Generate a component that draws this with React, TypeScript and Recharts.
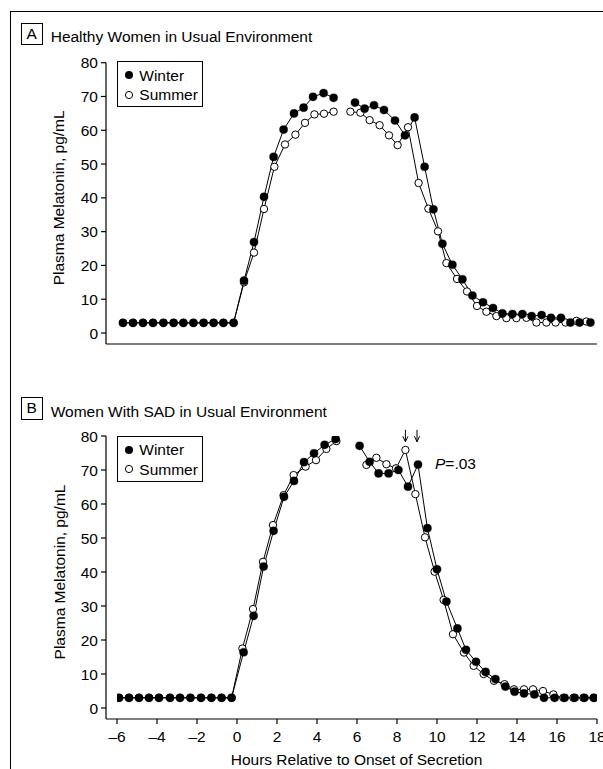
import React from 'react';
import { LineChart, Line, XAxis, YAxis, Legend, ReferenceDot } from 'recharts';

const FONT = "'Liberation Sans', Arial, sans-serif";
const FS = 15.5;

// ---------- axes / labels ----------
const xTicks = [-6, -4, -2, 0, 2, 4, 6, 8, 10, 12, 14, 16, 18];
const yTicks = [0, 10, 20, 30, 40, 50, 60, 70, 80];
const seriesNames = ['Winter', 'Summer'];
const panelLetters = ['A', 'B'];
const panelTitles = ['Healthy Women in Usual Environment', 'Women With SAD in Usual Environment'];
const yLabel = 'Plasma Melatonin, pg/mL';
const xLabel = 'Hours Relative to Onset of Secretion';

// ---------- Panel A: healthy women ----------
const hoursWinterA = [-5.7, -5.2, -4.7, -4.2, -3.68, -3.17, -2.68, -2.18, -1.67, -1.17, -0.68, -0.17,
  0.35, 0.85, 1.35, 1.83, 2.33, 2.85, 3.33, 3.8, 4.33, 4.83, 5.4, 5.9, 6.38, 6.85, 7.35, 7.9, 8.4, 8.88,
  9.38, 9.82, 10.27, 10.77, 11.27, 11.77, 12.3, 12.8, 13.27, 13.77, 14.27, 14.73, 15.23, 15.7, 16.2,
  16.67, 17.13, 17.67];
const winterA = [3, 3, 3, 3, 3, 3, 3, 3, 3, 3, 3, 3,
  15.5, 26.9, 40.3, 52.1, 60.2, 65, 66.7, 69.9, 71, 69.6, null, 68.2, 66.4, 67.4, 66, 62.9, 58.5, 63.8,
  49.2, 36.6, 26.4, 20.2, 15.9, 11.1, 9.1, 7.4, 5.8, 5.6, 5.6, 5.0, 5.3, 4.5, 4.5,
  3.1, 3.1, 3.1];

const hoursSummerA = [-5.7, -5.2, -4.7, -4.2, -3.68, -3.17, -2.68, -2.18, -1.67, -1.17, -0.68, -0.17,
  0.35, 0.85, 1.35, 1.87, 2.4, 2.92, 3.4, 3.87, 4.35, 4.83, 5.25, 5.67, 6.17, 6.63, 7.13, 7.6, 8.03, 8.55,
  9.08, 9.57, 10.05, 10.47, 11.0, 11.5, 12.0, 12.47, 12.97, 13.47, 13.97, 14.47, 14.97, 15.47, 15.93,
  16.43, 16.97, 17.47];
const summerA = [3, 3, 3, 3, 3, 3, 3, 3, 3, 3, 3, 3,
  15, 23.8, 36.7, 49.2, 55.8, 58.7, 62.2, 64.7, 64.9, 65.5, null, 65.5, 65.2, 63, 61.5, 58.5, 55.6, 60.9,
  44.4, 36.8, 30.1, 20.7, 16, 12.3, 8.0, 6.3, 5.0, 4.4, 4.4, 4.5, 3.1, 3.1, 3.1,
  3.1, 3.6, 3.4];

// ---------- Panel B: women with SAD ----------
const hoursWinterB = [-5.9, -5.4, -4.9, -4.4, -3.9, -3.35, -2.85, -2.33, -1.8, -1.28, -0.77, -0.27,
  0.33, 0.83, 1.33, 1.83, 2.35, 2.85, 3.35, 3.85, 4.38, 4.93, 5.5, 6.13, 6.63, 7.08, 7.58, 8.07, 8.55,
  9.05, 9.52, 10.0, 10.47, 11.02, 11.45, 11.95, 12.43, 12.92, 13.42, 13.88, 14.35, 14.87, 15.35, 15.88,
  16.38, 16.88, 17.37, 17.85];
const winterB = [3, 3, 3, 3, 3, 3, 3, 3, 3, 3, 3, 3,
  16.4, 27.1, 41.6, 52.1, 62.1, 66.8, 72.3, 74.9, 77.4, 79.1, null, 77.1, 72.4, 69, 69, 70, 65.1,
  71.6, 52.9, 40.8, 31.3, 23.4, 17.1, 13.6, 10.6, 8.5, 6.3, 4.8, 4.3, 4.0, 3.0, 3.0,
  3.0, 3.0, 3.0, 3.0];

const hoursSummerB = [-5.9, -5.4, -4.9, -4.4, -3.9, -3.35, -2.85, -2.33, -1.8, -1.28, -0.77, -0.27,
  0.27, 0.8, 1.3, 1.8, 2.33, 2.83, 3.43, 3.95, 4.47, 4.97, 5.7, 6.47, 6.97, 7.47, 7.95, 8.42, 8.92,
  9.4, 9.88, 10.33, 10.8, 11.35, 11.83, 12.33, 12.85, 13.38, 13.85, 14.35, 14.8, 15.3, 15.82, 16.32,
  16.82, 17.32, 17.82];
const summerB = [3, 3, 3, 3, 3, 3, 3, 3, 3, 3, 3, 3,
  17.5, 29.1, 43, 53.8, 62.6, 68.5, 71, 72.9, 76.2, 78.5, null, 71.5, 73.6, 71.7, 70.5, 75.9, 62.9,
  50.2, 40.1, 31.8, 21.7, 16.3, 12.4, 10.0, 8.0, 7.0, 5.5, 5.5, 5.5, 5.0, 4.0, 3.0,
  3.0, 3.0, 3.0];

// annotation in panel B
const arrowHours = [8.42, 9.0];
const arrowLevel = 78.3;
const pValueAt = { x: 9.9, y: 71.8 };
const pValueText = '.03';

const toRows = (xs: number[], ys: (number | null)[]) => xs.map((x, i) => ({ x, y: ys[i] }));

const panels = [
  { winter: toRows(hoursWinterA, winterA), summer: toRows(hoursSummerA, summerA) },
  { winter: toRows(hoursWinterB, winterB), summer: toRows(hoursSummerB, summerB) },
];

const textStyle = { fontFamily: FONT, fontSize: FS, fill: '#000' };

const LegendBox = () => (
  <div
    style={{
      border: '1px solid #000',
      boxSizing: 'border-box',
      width: 86,
      height: 46,
      padding: '3px 0 0 6px',
      fontFamily: FONT,
      fontSize: FS,
      lineHeight: '19px',
      background: '#fff',
      color: '#000',
    }}
  >
    {seriesNames.map((n, i) => (
      <div key={n} style={{ display: 'flex', alignItems: 'center', height: 19.5 }}>
        <svg width={10} height={10} style={{ marginRight: 5, flex: 'none' }}>
          <circle cx={5} cy={5} r={i === 0 ? 4 : 3.6} fill={i === 0 ? '#000' : '#fff'} stroke="#000" strokeWidth={i === 0 ? 0 : 1} />
        </svg>
        <span>{n}</span>
      </div>
    ))}
  </div>
);

const Arrow = (p: any) => {
  const { cx, cy } = p;
  return (
    <g>
      <line x1={cx} y1={cy - 12} x2={cx} y2={cy} stroke="#000" strokeWidth={1} />
      <path d={`M${cx - 2.6},${cy - 5.5} L${cx},${cy} L${cx + 2.6},${cy - 5.5}`} fill="none" stroke="#000" strokeWidth={1} />
    </g>
  );
};

const PText = (p: any) => {
  const { cx, cy } = p;
  return (
    <text x={cx} y={cy + 5.5} fontFamily={FONT} fontSize={FS} fill="#000">
      <tspan fontStyle="italic">P</tspan>
      {'=' + pValueText}
    </text>
  );
};

const fmtX = (v: number) => (v < 0 ? '\u2013' + Math.abs(v) : String(v));

function Panel({ idx, top, height, marginTop, showX }: { idx: number; top: number; height: number; marginTop: number; showX: boolean }) {
  const d = panels[idx];
  return (
    <div style={{ position: 'absolute', left: 0, top }}>
      <LineChart width={603} height={height} margin={{ top: marginTop, right: 6, bottom: 0, left: 46 }}>
        <XAxis
          type="number"
          dataKey="x"
          domain={[-6, 18]}
          ticks={xTicks}
          interval={0}
          padding={{ left: 11, right: 0 }}
          height={showX ? 50 : 16}
          tickSize={showX ? 5 : 6}
          tickMargin={7}
          tick={showX ? textStyle : false}
          tickFormatter={fmtX}
          axisLine={{ stroke: '#000', strokeWidth: 1.2 }}
          tickLine={{ stroke: '#000', strokeWidth: 1.2 }}
          allowDataOverflow
          label={showX ? { value: xLabel, position: 'insideBottom', offset: 4, dx: 5, ...textStyle } : undefined}
        />
        <YAxis
          type="number"
          domain={[0, 80]}
          ticks={yTicks}
          interval={0}
          width={60}
          padding={{ top: 0, bottom: 11 }}
          tickSize={5}
          tickMargin={3}
          tick={textStyle}
          axisLine={{ stroke: '#000', strokeWidth: 1.2 }}
          tickLine={{ stroke: '#000', strokeWidth: 1.2 }}
          allowDataOverflow
          label={{ value: yLabel, angle: -90, position: 'insideLeft', offset: 13, dy: -5.5, style: { textAnchor: 'middle' }, ...textStyle }}
        />
        <Legend
          layout="horizontal"
          verticalAlign="middle"
          align="center"
          width={86}
          height={46}
          wrapperStyle={{ top: idx === 0 ? 61.3 : 66, left: 117.3, width: 86, height: 46 }}
          content={() => <LegendBox />}
        />
        <Line data={d.summer} dataKey="y" name="Summer line" stroke="#000" strokeWidth={1} dot={false} legendType="none" connectNulls={false} isAnimationActive={false} />
        <Line data={d.winter} dataKey="y" name="Winter line" stroke="#000" strokeWidth={1} dot={false} legendType="none" connectNulls={false} isAnimationActive={false} />
        <Line data={d.summer} dataKey="y" name="Summer" stroke="none" strokeWidth={0} dot={{ r: 3.7, fill: '#fff', stroke: '#000', strokeWidth: 1 }} connectNulls={false} isAnimationActive={false} />
        <Line data={d.winter} dataKey="y" name="Winter" stroke="none" strokeWidth={0} dot={{ r: 4.1, fill: '#000', stroke: '#000', strokeWidth: 0.3 }} connectNulls={false} isAnimationActive={false} />
        {idx === 1 && arrowHours.map((h) => (
          <ReferenceDot key={h} x={h} y={arrowLevel} r={0} ifOverflow="visible" shape={Arrow} />
        ))}
        {idx === 1 && (
          <ReferenceDot x={pValueAt.x} y={pValueAt.y} r={0} ifOverflow="visible" shape={PText} />
        )}
      </LineChart>
    </div>
  );
}

const titleStyle: React.CSSProperties = {
  position: 'absolute',
  left: 50.7,
  fontFamily: FONT,
  fontSize: FS,
  lineHeight: FS + 'px',
  color: '#000',
  whiteSpace: 'nowrap',
};

const letterBox = (top: number): React.CSSProperties => ({
  position: 'absolute',
  left: 20.7,
  top,
  width: 22,
  height: 22.3,
  boxSizing: 'border-box',
  border: '1px solid #000',
  display: 'flex',
  alignItems: 'center',
  justifyContent: 'center',
  fontFamily: FONT,
  fontSize: FS,
  color: '#000',
});

export default function App() {
  return (
    <div style={{ position: 'absolute', left: 0, top: 0, width: 603, height: 769, overflow: 'hidden', background: '#fff' }}>
      <div style={{ position: 'absolute', left: 10, top: 11, width: 640, height: 800, border: '1.3px solid #000', boxSizing: 'border-box' }} />
      <div style={letterBox(22.7)}>{panelLetters[0]}</div>
      <div style={{ ...titleStyle, top: 28.9 }}>{panelTitles[0]}</div>
      <div style={letterBox(397.3)}>{panelLetters[1]}</div>
      <div style={{ ...titleStyle, top: 403.6 }}>{panelTitles[1]}</div>
      <Panel idx={0} top={0} height={360} marginTop={62.7} showX={false} />
      <Panel idx={1} top={370} height={399} marginTop={66} showX={true} />
    </div>
  );
}
